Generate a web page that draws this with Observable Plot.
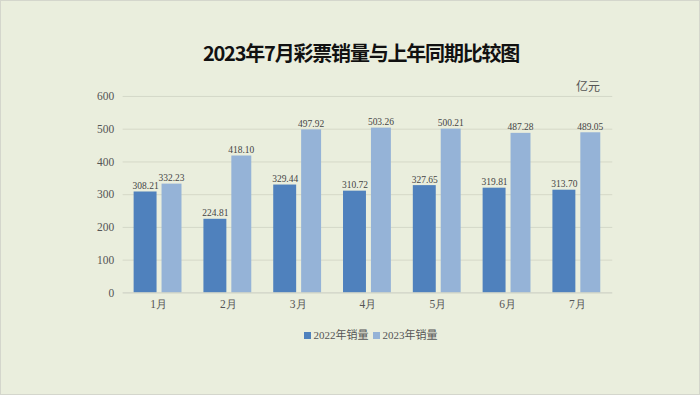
<!DOCTYPE html>
<html><head><meta charset="utf-8">
<script src="https://cdn.jsdelivr.net/npm/d3@7"></script>
<script src="https://cdn.jsdelivr.net/npm/@observablehq/plot@0.6"></script>
<style>
html,body{margin:0;padding:0;}
#wrap{position:relative;width:698px;height:393px;background:#eaeedd;border:1px solid #d4d6cc;overflow:hidden;}
#title{position:absolute;top:37px;left:10px;width:700px;text-align:center;font:bold 20px "Noto Sans CJK SC",sans-serif;color:#111;letter-spacing:-1.2px;}
#unit{position:absolute;top:76px;left:575px;font:12px "Noto Sans CJK SC",sans-serif;color:#555;}
#chart{position:absolute;top:80px;left:0;}
#legend{position:absolute;top:325px;left:122px;width:491px;text-align:center;font:11px "Liberation Serif","Noto Sans CJK SC",serif;color:#555;}
#legend span.sw{display:inline-block;width:7px;height:7px;margin:0 3px 0 4px;vertical-align:0px;}
svg text{font-family:"Liberation Serif","DejaVu Serif",serif;}
</style></head>
<body><div id="wrap"><div id="title"></div><div id="unit"></div><div id="chart"></div><div id="legend"></div></div>
<script>
const titleText = "2023年7月彩票销量与上年同期比较图";
const unitText = "亿元";
const months = ["1月","2月","3月","4月","5月","6月","7月"];
const series = ["2022年销量","2023年销量"];
const sales2022 = [308.21,224.81,329.44,310.72,327.65,319.81,313.70];
const sales2023 = [332.23,418.10,497.92,503.26,500.21,487.28,489.05];
const yTicks = [0,100,200,300,400,500,600];
const colors = ["#4f81bd","#95b3d7"];

document.getElementById("title").textContent = titleText;
document.getElementById("unit").textContent = unitText;

const d22 = months.map((m,i)=>({month:m, value:sales2022[i]}));
const d23 = months.map((m,i)=>({month:m, value:sales2023[i]}));
const serif = "'Liberation Serif','DejaVu Serif',serif";

const chart = Plot.plot({
  width: 700, height: 235,
  marginTop: 15, marginBottom: 23, marginLeft: 122, marginRight: 87,
  style: {background: "transparent", fontFamily: serif, fontSize: "11.5px", color: "#555"},
  x: {type: "band", domain: months, paddingInner: 0.33, paddingOuter: 0.165, label: null, tickSize: 0, tickPadding: 7},
  y: {domain: [0,600], ticks: yTicks, label: null, tickSize: 0, tickPadding: 9},
  marks: [
    Plot.ruleY(yTicks.filter(t=>t>0), {stroke: "#d5d8c8", strokeWidth: 1}),
    Plot.barY(d22, {x: "month", y: "value", fill: colors[0], insetRight: 25, insetLeft: -1}),
    Plot.barY(d23, {x: "month", y: "value", fill: colors[1], insetLeft: 27}),
    Plot.ruleY([0], {stroke: "#c9cbc0", strokeWidth: 1}),
    Plot.text(d22, {x: "month", y: "value", text: d=>d.value.toFixed(2), dx: -13, dy: -6, fontSize: 9.5, fill: "#444", letterSpacing: "-0.4px"}),
    Plot.text(d23, {x: "month", y: "value", text: d=>d.value.toFixed(2), dx: 13, dy: -6, fontSize: 9.5, fill: "#444", letterSpacing: "-0.4px"})
  ]
});
document.getElementById("chart").appendChild(chart);

const lg = document.getElementById("legend");
series.forEach((s,i)=>{
  const sw = document.createElement("span"); sw.className="sw"; sw.style.background = colors[i];
  lg.appendChild(sw);
  lg.appendChild(document.createTextNode(s));
});
</script></body></html>
